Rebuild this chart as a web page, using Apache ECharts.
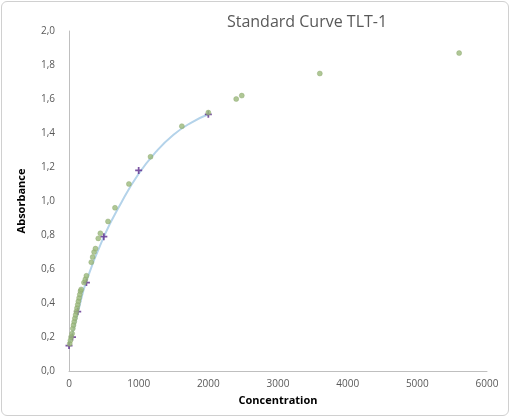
<!DOCTYPE html>
<html>
<head>
<meta charset="UTF-8">
<script src="https://cdn.jsdelivr.net/npm/echarts@6/dist/echarts.min.js"></script>
<style>
html,body{margin:0;padding:0;background:#fff;}
#chart{position:absolute;left:1px;top:1px;width:506px;height:413px;border:1px solid #d0d0d0;border-radius:6px;}
</style>
</head>
<body>
<div id="chart"></div>
<script>
// samples (green)
var samples = [[10,0.16],[20,0.18],[30,0.2],[45,0.22],[55,0.25],[65,0.27],[75,0.29],[85,0.31],[95,0.33],[105,0.35],
  [115,0.37],[125,0.39],[135,0.41],[145,0.43],[155,0.45],[165,0.47],[175,0.48],[215,0.52],[235,0.54],[250,0.56],
  [320,0.64],[340,0.67],[360,0.7],[380,0.72],[420,0.78],[450,0.81],[560,0.88],[660,0.96],[860,1.10],[1170,1.26],
  [1620,1.44],[2000,1.52],[2400,1.60],[2480,1.62],[3600,1.75],[5600,1.87]];
// standards (purple +)
var standards = [[0,0.15],[50,0.2],[125,0.35],[250,0.52],[500,0.79],[1000,1.18],[2000,1.51]];
// fitted curve
var curve = [[0,0.16],[50,0.22],[125,0.34],[250,0.53],[500,0.79],[750,0.99],[1000,1.16],[1250,1.29],[1500,1.39],[1750,1.46],[2000,1.51]];

var chart = echarts.init(document.getElementById('chart'));
chart.setOption({
  animation:false,
  title:{text:'Standard Curve TLT-1',left:300,top:7,textAlign:'center',
    textStyle:{fontFamily:'Open Sans',fontSize:16,fontWeight:'normal',color:'#595959'}},
  grid:{left:67,right:21,top:29,bottom:44},
  xAxis:{type:'value',min:0,max:6000,interval:1000,name:'Concentration',nameLocation:'middle',nameGap:24,
    nameTextStyle:{fontFamily:'Open Sans',fontWeight:'bold',fontSize:11,color:'#000'},
    axisLine:{lineStyle:{color:'#bfbfbf'}},axisTick:{show:false},splitLine:{show:false},
    axisLabel:{fontFamily:'Open Sans',fontSize:10,color:'#595959',formatter:function(v){return String(v);}}},
  yAxis:{type:'value',min:0,max:2,interval:0.2,name:'Absorbance',nameLocation:'middle',nameGap:42,
    nameTextStyle:{fontFamily:'Open Sans',fontWeight:'bold',fontSize:11,color:'#000'},
    axisLine:{show:true,lineStyle:{color:'#bfbfbf'}},axisTick:{show:false},splitLine:{show:false},
    axisLabel:{fontFamily:'Open Sans',fontSize:10,color:'#595959',margin:14,
      formatter:function(v){return v.toFixed(1).replace('.',',');}}},
  series:[
    {type:'line',data:curve,smooth:true,showSymbol:false,lineStyle:{color:'#b4d3ea',width:2},z:1},
    {type:'scatter',data:standards,symbol:'path://M-1,-4H1V-1H4V1H1V4H-1V1H-4V-1H-1Z',symbolSize:7,
      itemStyle:{color:'#5b2a8c'},z:2},
    {type:'scatter',data:samples,symbolSize:5,itemStyle:{color:'#9bb97a',borderColor:'#8aa56b',borderWidth:0.5},z:3}
  ]
});
</script>
</body>
</html>
